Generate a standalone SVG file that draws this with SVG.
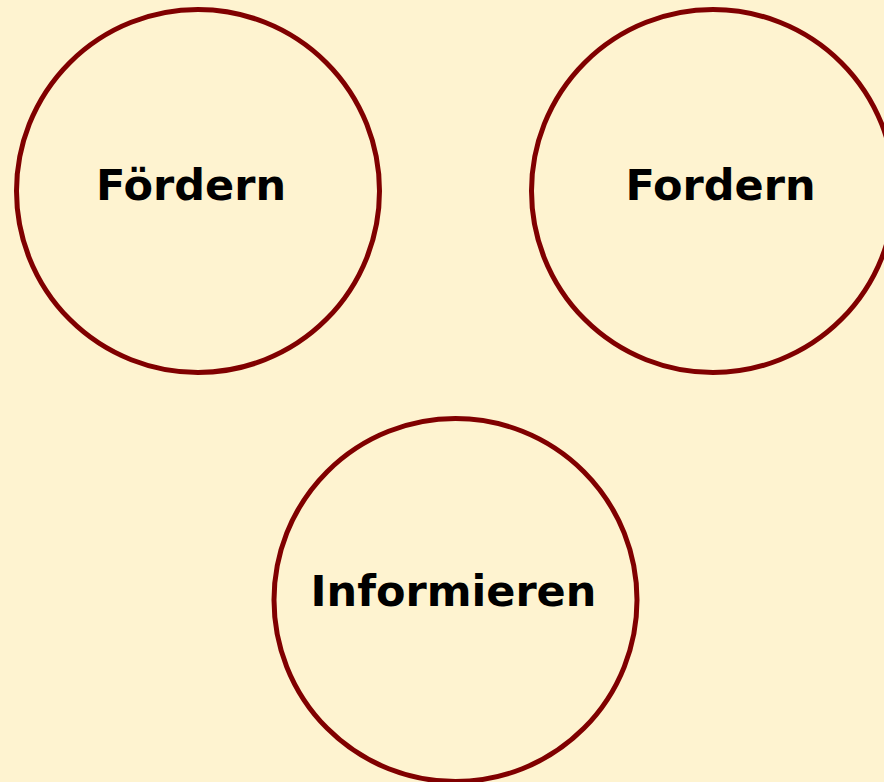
<svg xmlns="http://www.w3.org/2000/svg" width="884" height="782" viewBox="0 0 884 782">
<style>
.node circle{fill:#FEF3D0;stroke:#800000;stroke-width:5}
.node text{font-family:"DejaVu Sans",Verdana,sans-serif;font-weight:bold;font-size:43px;fill:#000;text-anchor:middle}
</style>
<rect width="884" height="782" fill="#FEF3D0"/>
<g id="connectors"></g>
<g id="foerdern" class="node"><circle cx="198" cy="191" r="181.5"/><text x="191" y="200">Fördern</text></g>
<g id="fordern" class="node"><circle cx="713" cy="191" r="181.5"/><text x="720.5" y="200">Fordern</text></g>
<g id="informieren" class="node"><circle cx="455.5" cy="600" r="181.5"/><text x="453.5" y="606">Informieren</text></g>
</svg>
